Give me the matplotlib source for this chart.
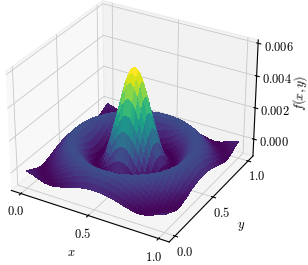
import numpy as np
import matplotlib
matplotlib.use("Agg")
import matplotlib.pyplot as plt

plt.rcParams["mathtext.fontset"] = "cm"
plt.rcParams["font.family"] = "serif"

x_ticks = [0.0, 0.5, 1.0]
y_ticks = [0.0, 0.5, 1.0]
z_ticks = [0.000, 0.002, 0.004, 0.006]
x_tick_labels = ["$0.0$", "$0.5$", "$1.0$"]
y_tick_labels = ["$0.0$", "$0.5$", "$1.0$"]
z_tick_labels = ["$0.000$", "$0.002$", "$0.004$", "$0.006$"]

# heights, in units of 1e-3, one octant of the surface
# row i = steps from the centre along x, entries start at j = i along y
octant = [
    [5.5, 5.3, 4.8, 3.95, 3.0, 2.1, 1.25, .45, -.15, -.45, -.55, -.4, -.1, .25, .55, .78, .88, .8, .6, .35, .1],
    [5.1, 4.6, 3.8, 2.9, 2.0, 1.2, .41, -.17, -.46, -.54, -.39, -.09, .26, .56, .79, .88, .79, .59, .34, .1],
    [4.1, 3.4, 2.55, 1.77, 1.0, .28, -.23, -.47, -.52, -.35, -.04, .3, .58, .79, .87, .78, .57, .33, .08],
    [2.8, 2.1, 1.4, .68, .08, -.31, -.5, -.48, -.28, .03, .35, .62, .81, .86, .75, .54, .29, .05],
    [1.55, .95, .32, -.17, -.43, -.54, -.44, -.19, .13, .43, .68, .83, .84, .71, .49, .25, .01],
    [.41, -.04, -.33, -.49, -.51, -.35, -.07, .25, .53, .75, .86, .82, .66, .43, .19, -.04],
    [-.3, -.47, -.55, -.43, -.2, .09, .38, .62, .8, .87, .78, .59, .36, .12, -.09],
    [-.54, -.46, -.28, -.03, .26, .52, .72, .85, .84, .71, .5, .27, .04, -.15],
    [-.31, -.09, .18, .43, .65, .81, .87, .8, .62, .41, .18, -.04, -.22],
    [.16, .39, .6, .78, .86, .83, .7, .51, .29, .07, -.12, -.29],
    [.58, .75, .84, .85, .76, .59, .38, .17, -.03, -.2, -.34],
    [.84, .86, .79, .64, .45, .25, .05, -.14, -.29, -.4],
    [.8, .66, .49, .3, .1, -.08, -.23, -.36, -.43],
    [.5, .33, .14, -.04, -.19, -.32, -.42, -.45],
    [.15, -.01, -.17, -.3, -.4, -.44, -.42],
    [-.16, -.29, -.38, -.43, -.44, -.38],
    [-.38, -.43, -.44, -.39, -.3],
    [-.45, -.4, -.32, -.22],
    [-.32, -.23, -.13],
    [-.13, -.07],
    [0.0],
]

# the surface has the same shape in all four quadrants, so mirror the octant
n = len(octant)
quad = np.zeros((n, n))
for i, row in enumerate(octant):
    for k, v in enumerate(row):
        quad[i, i + k] = v
        quad[i + k, i] = v
right = np.hstack([quad[:, :0:-1], quad])
Z = np.vstack([right[:0:-1], right]) * 1e-3

x = np.linspace(0, 1, Z.shape[1])
y = np.linspace(0, 1, Z.shape[0])
X, Y = np.meshgrid(x, y)

fig = plt.figure(figsize=(3.08, 2.65), dpi=100)
ax = fig.add_axes([-0.076, 0.02, 1.0, 1.06], projection="3d")
ax.plot_surface(X, Y, Z, cmap="viridis", rcount=41, ccount=41, linewidth=0, antialiased=False)

ax.set_zlim(-0.0011, 0.0062)
ax.set_xticks(x_ticks)
ax.set_yticks(y_ticks)
ax.set_zticks(z_ticks)
ax.set_xticklabels(x_tick_labels, fontsize=9)
ax.set_yticklabels(y_tick_labels, fontsize=9)
ax.set_zticklabels(z_tick_labels, fontsize=9)
ax.set_xlabel("$x$", fontsize=9, labelpad=-2)
ax.set_ylabel("$y$", fontsize=9, labelpad=-2)
ax.set_zlabel("$f(x,y)$", fontsize=9, labelpad=-1)
ax.tick_params(pad=-2)
ax.tick_params(axis="z", pad=1)
for axis in (ax.xaxis, ax.yaxis, ax.zaxis):
    axis._axinfo["grid"]["color"] = "#c8c8c8"
    axis._axinfo["grid"]["linewidth"] = 0.6
    axis._axinfo["axisline"]["linewidth"] = 0.6
    axis._axinfo["axisline"]["color"] = "#555555"
    axis.pane.set_edgecolor("#e6e6e6")

fig.savefig("out.png", dpi=100)
